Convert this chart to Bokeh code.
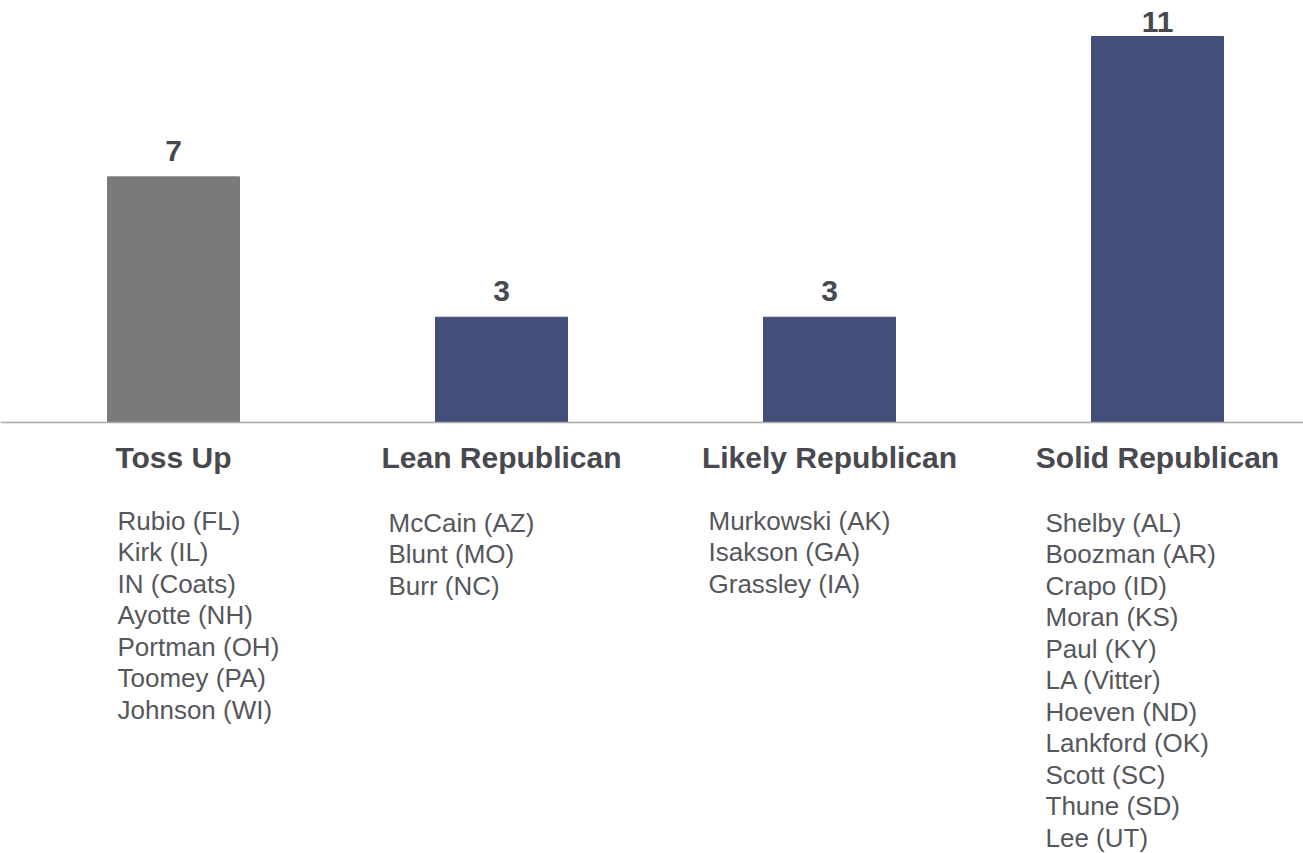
from bokeh.plotting import figure
from bokeh.models import Range1d, Span, ColumnDataSource
from bokeh.core.properties import value
from bokeh.embed import file_html
from bokeh.resources import INLINE

# ---- data ----
categories = ["Toss Up", "Lean Republican", "Likely Republican", "Solid Republican"]
counts = [7, 3, 3, 11]
toss_up = ["Rubio (FL)", "Kirk (IL)", "IN (Coats)", "Ayotte (NH)", "Portman (OH)",
           "Toomey (PA)", "Johnson (WI)"]
lean_rep = ["McCain (AZ)", "Blunt (MO)", "Burr (NC)"]
likely_rep = ["Murkowski (AK)", "Isakson (GA)", "Grassley (IA)"]
solid_rep = ["Shelby (AL)", "Boozman (AR)", "Crapo (ID)", "Moran (KS)", "Paul (KY)",
             "LA (Vitter)", "Hoeven (ND)", "Lankford (OK)", "Scott (SC)", "Thune (SD)",
             "Lee (UT)"]
senators = [toss_up, lean_rep, likely_rep, solid_rep]

# ---- layout / style ----
W, H = 1303, 853
PX_X = 328.0              # pixels per category step
PX_Y = 386.0 / 11         # pixels per seat
BASE = 422                # baseline pixel from top of figure
FIX = 9                   # text baseline correction (px)
FONT = value("Liberation Sans")
TOSS_COLOR = "#7a7a7a"
REP_COLOR = "#444e7b"
NAME_COLOR = "#55575c"
LABEL_COLOR = "#48494e"

x0 = -173.0 / PX_X
p = figure(width=W, height=H, output_backend="svg", toolbar_location=None,
           x_range=Range1d(x0, x0 + W / PX_X),
           y_range=Range1d(-(H - BASE) / PX_Y, BASE / PX_Y),
           min_border=0, outline_line_color=None, background_fill_color="white")
p.axis.visible = False
p.grid.visible = False

xs = list(range(len(categories)))
colors = [TOSS_COLOR if c == "Toss Up" else REP_COLOR for c in categories]
src = ColumnDataSource(dict(x=xs, top=counts, color=colors))
p.vbar(x="x", top="top", bottom=0, width=132 / PX_X, color="color", source=src)

p.add_layout(Span(location=0, dimension="width", line_color="#a8a8a8", line_width=1.5))

# value labels above bars
vmax = max(counts)
ly = [c + ((6 if c == vmax else 17) + FIX) / PX_Y for c in counts]
p.text(x=xs, y=ly, text=[str(c) for c in counts], text_font=FONT, text_font_style="bold",
       text_font_size="30px", text_color=LABEL_COLOR, text_align="center",
       text_baseline="alphabetic")

# category labels
p.text(x=xs, y=[-(44 - FIX) / PX_Y] * len(xs), text=categories, text_font=FONT,
       text_font_style="bold", text_font_size="30px", text_color=LABEL_COLOR,
       text_align="center", text_baseline="alphabetic")

# senator lists
name_dx = [-56, -113, -121, -112]
first_base = [107, 109, 107, 109]
line_h = 31.5
nx, ny, nt = [], [], []
for i, names in enumerate(senators):
    for j, n in enumerate(names):
        nx.append(i + name_dx[i] / PX_X)
        ny.append(-(first_base[i] - FIX + j * line_h) / PX_Y)
        nt.append(n)
p.text(x=nx, y=ny, text=nt, text_font=FONT, text_font_size="26px",
       text_color=NAME_COLOR, text_align="left", text_baseline="alphabetic")

open("out.html", "w").write(file_html(p, INLINE))
